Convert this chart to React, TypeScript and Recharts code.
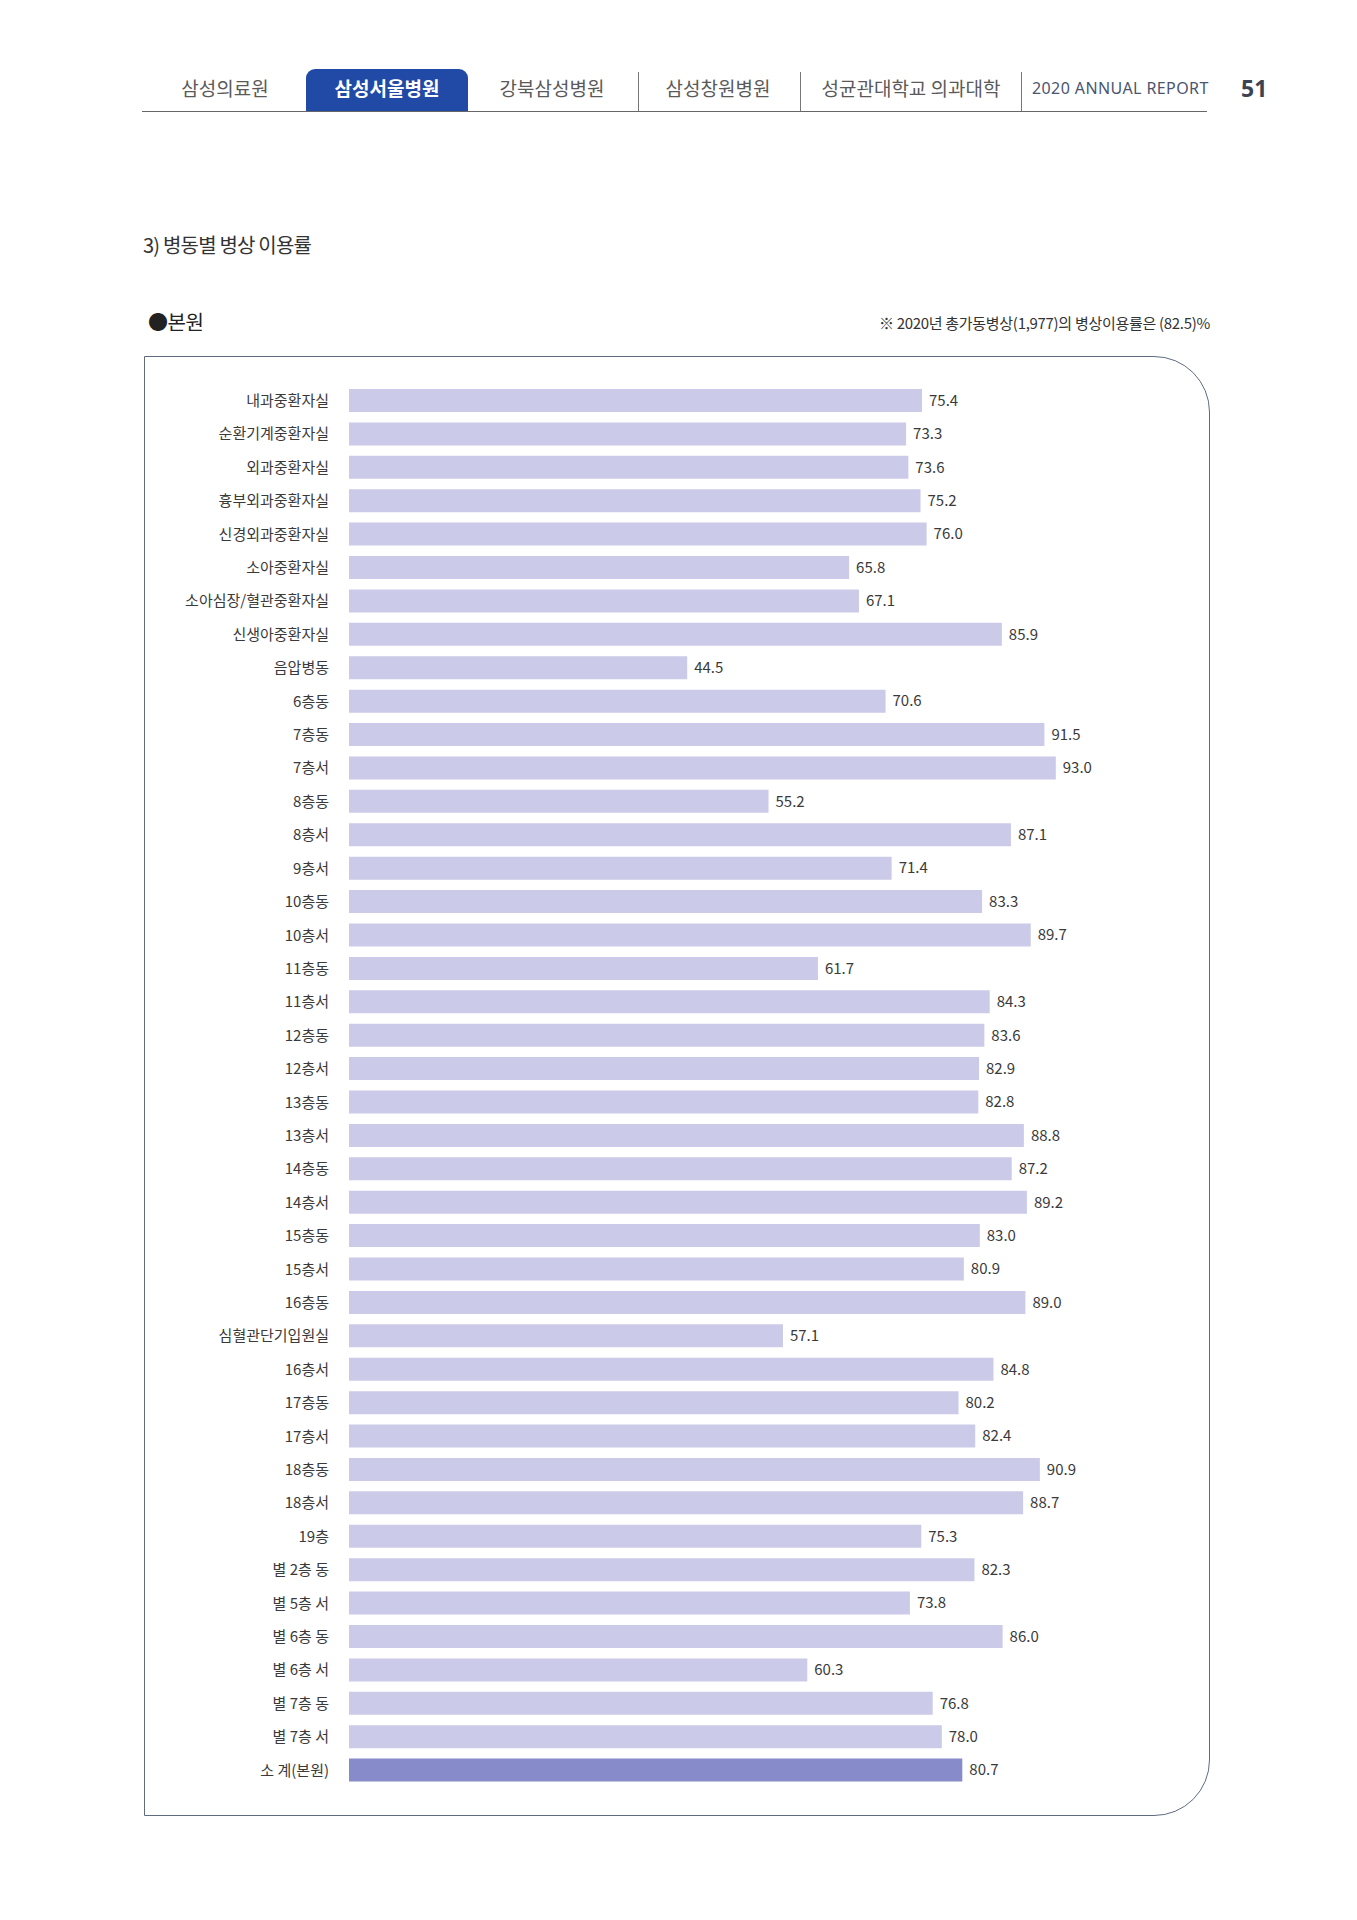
import { BarChart, Bar, XAxis, YAxis, Cell, LabelList } from "recharts"

const wards = [
  "내과중환자실", "순환기계중환자실", "외과중환자실", "흉부외과중환자실", "신경외과중환자실",
  "소아중환자실", "소아심장/혈관중환자실", "신생아중환자실", "음압병동", "6층동",
  "7층동", "7층서", "8층동", "8층서", "9층서",
  "10층동", "10층서", "11층동", "11층서", "12층동",
  "12층서", "13층동", "13층서", "14층동", "14층서",
  "15층동", "15층서", "16층동", "심혈관단기입원실", "16층서",
  "17층동", "17층서", "18층동", "18층서", "19층",
  "별 2층 동", "별 5층 서", "별 6층 동", "별 6층 서", "별 7층 동",
  "별 7층 서", "소 계(본원)",
]

const rates = [
  75.4, 73.3, 73.6, 75.2, 76.0,
  65.8, 67.1, 85.9, 44.5, 70.6,
  91.5, 93.0, 55.2, 87.1, 71.4,
  83.3, 89.7, 61.7, 84.3, 83.6,
  82.9, 82.8, 88.8, 87.2, 89.2,
  83.0, 80.9, 89.0, 57.1, 84.8,
  80.2, 82.4, 90.9, 88.7, 75.3,
  82.3, 73.8, 86.0, 60.3, 76.8,
  78.0, 80.7,
]

const tabs = ["삼성의료원", "삼성서울병원", "강북삼성병원", "삼성창원병원", "성균관대학교 의과대학"]
const tabCenters = [225, 387, 552, 718, 911]

const chartData = wards.map((w, i) => ({ name: w, rate: rates[i] }))

const FONT = '"Noto Sans CJK KR", "Noto Sans", sans-serif'

export default function App() {
  return (
    <div style={{ position: "relative", width: 1357, height: 1920, background: "#fff", fontFamily: FONT, color: "#3a3a3a" }}>
      <style>{`body{margin:0}`}</style>

      {/* header */}
      <div style={{ position: "absolute", left: 306, top: 69, width: 162, height: 42, background: "#2149a6", borderRadius: "9px 9px 0 0" }} />
      {tabs.map((t, i) => (
        <div
          key={t}
          style={{
            position: "absolute", left: tabCenters[i] - 120, top: 73, width: 240, textAlign: "center",
            fontSize: 19, fontWeight: i === 1 ? 700 : 400, color: i === 1 ? "#fff" : "#5a5a5a", lineHeight: "30px",
          }}
        >
          {t}
        </div>
      ))}
      {[638, 800, 1021].map((x) => (
        <div key={x} style={{ position: "absolute", left: x, top: 72, width: 1.2, height: 39, background: "#777" }} />
      ))}
      <div style={{ position: "absolute", left: 142, top: 110.5, width: 1065, height: 1.5, background: "#666" }} />
      <div style={{ position: "absolute", left: 1032, top: 76, whiteSpace: "nowrap", fontSize: 16, letterSpacing: 0.4, color: "#4a5570", lineHeight: "24px", fontFamily: '"Noto Sans", sans-serif' }}>
        2020 ANNUAL REPORT
      </div>
      <div style={{ position: "absolute", left: 1241, top: 72, fontSize: 23, fontWeight: 700, color: "#3c4352", lineHeight: "32px", fontFamily: '"Noto Sans", sans-serif' }}>
        51
      </div>

      {/* titles */}
      <div style={{ position: "absolute", left: 143, top: 230, fontSize: 20, letterSpacing: -0.8, lineHeight: "30px", color: "#333" }}>
        3) 병동별 병상 이용률
      </div>
      <div style={{ position: "absolute", left: 148, top: 308, fontSize: 20, letterSpacing: -0.5, lineHeight: "28px", color: "#222" }}>
        ●본원
      </div>
      <div style={{ position: "absolute", right: 1357 - 1210, top: 312, whiteSpace: "nowrap", fontSize: 15, letterSpacing: -0.3, lineHeight: "22px", color: "#333" }}>
        ※ 2020년 총가동병상(1,977)의 병상이용률은 (82.5)%
      </div>

      {/* box */}
      <div
        style={{
          position: "absolute", left: 144, top: 356, width: 1066, height: 1460, boxSizing: "border-box",
          border: "1.5px solid #5f6c80", borderRadius: "0 56px 56px 0",
        }}
      />

      <div style={{ position: "absolute", left: 145, top: 356 }}>
        <BarChart
          width={1065}
          height={1460}
          data={chartData}
          layout="vertical"
          margin={{ top: 28, right: 101, bottom: 29, left: 0 }}
          barSize={23}
        >
          <XAxis type="number" domain={[0, 100]} hide />
          <YAxis
            type="category"
            dataKey="name"
            width={204}
            axisLine={false}
            tickLine={false}
            tickSize={0}
            tickMargin={20}
            interval={0}
            tick={{ fontSize: 15, fill: "#3a3a3a", fontFamily: FONT }}
          />
          <Bar dataKey="rate" isAnimationActive={false}>
            {chartData.map((d, i) => (
              <Cell key={d.name} fill={i === chartData.length - 1 ? "#878bc9" : "#cbcae8"} />
            ))}
            <LabelList
              dataKey="rate"
              position="right"
              offset={7}
              formatter={(v: any) => Number(v).toFixed(1)}
              style={{ fontSize: 15, fill: "#3a3a3a", fontFamily: FONT }}
            />
          </Bar>
        </BarChart>
      </div>
    </div>
  )
}
